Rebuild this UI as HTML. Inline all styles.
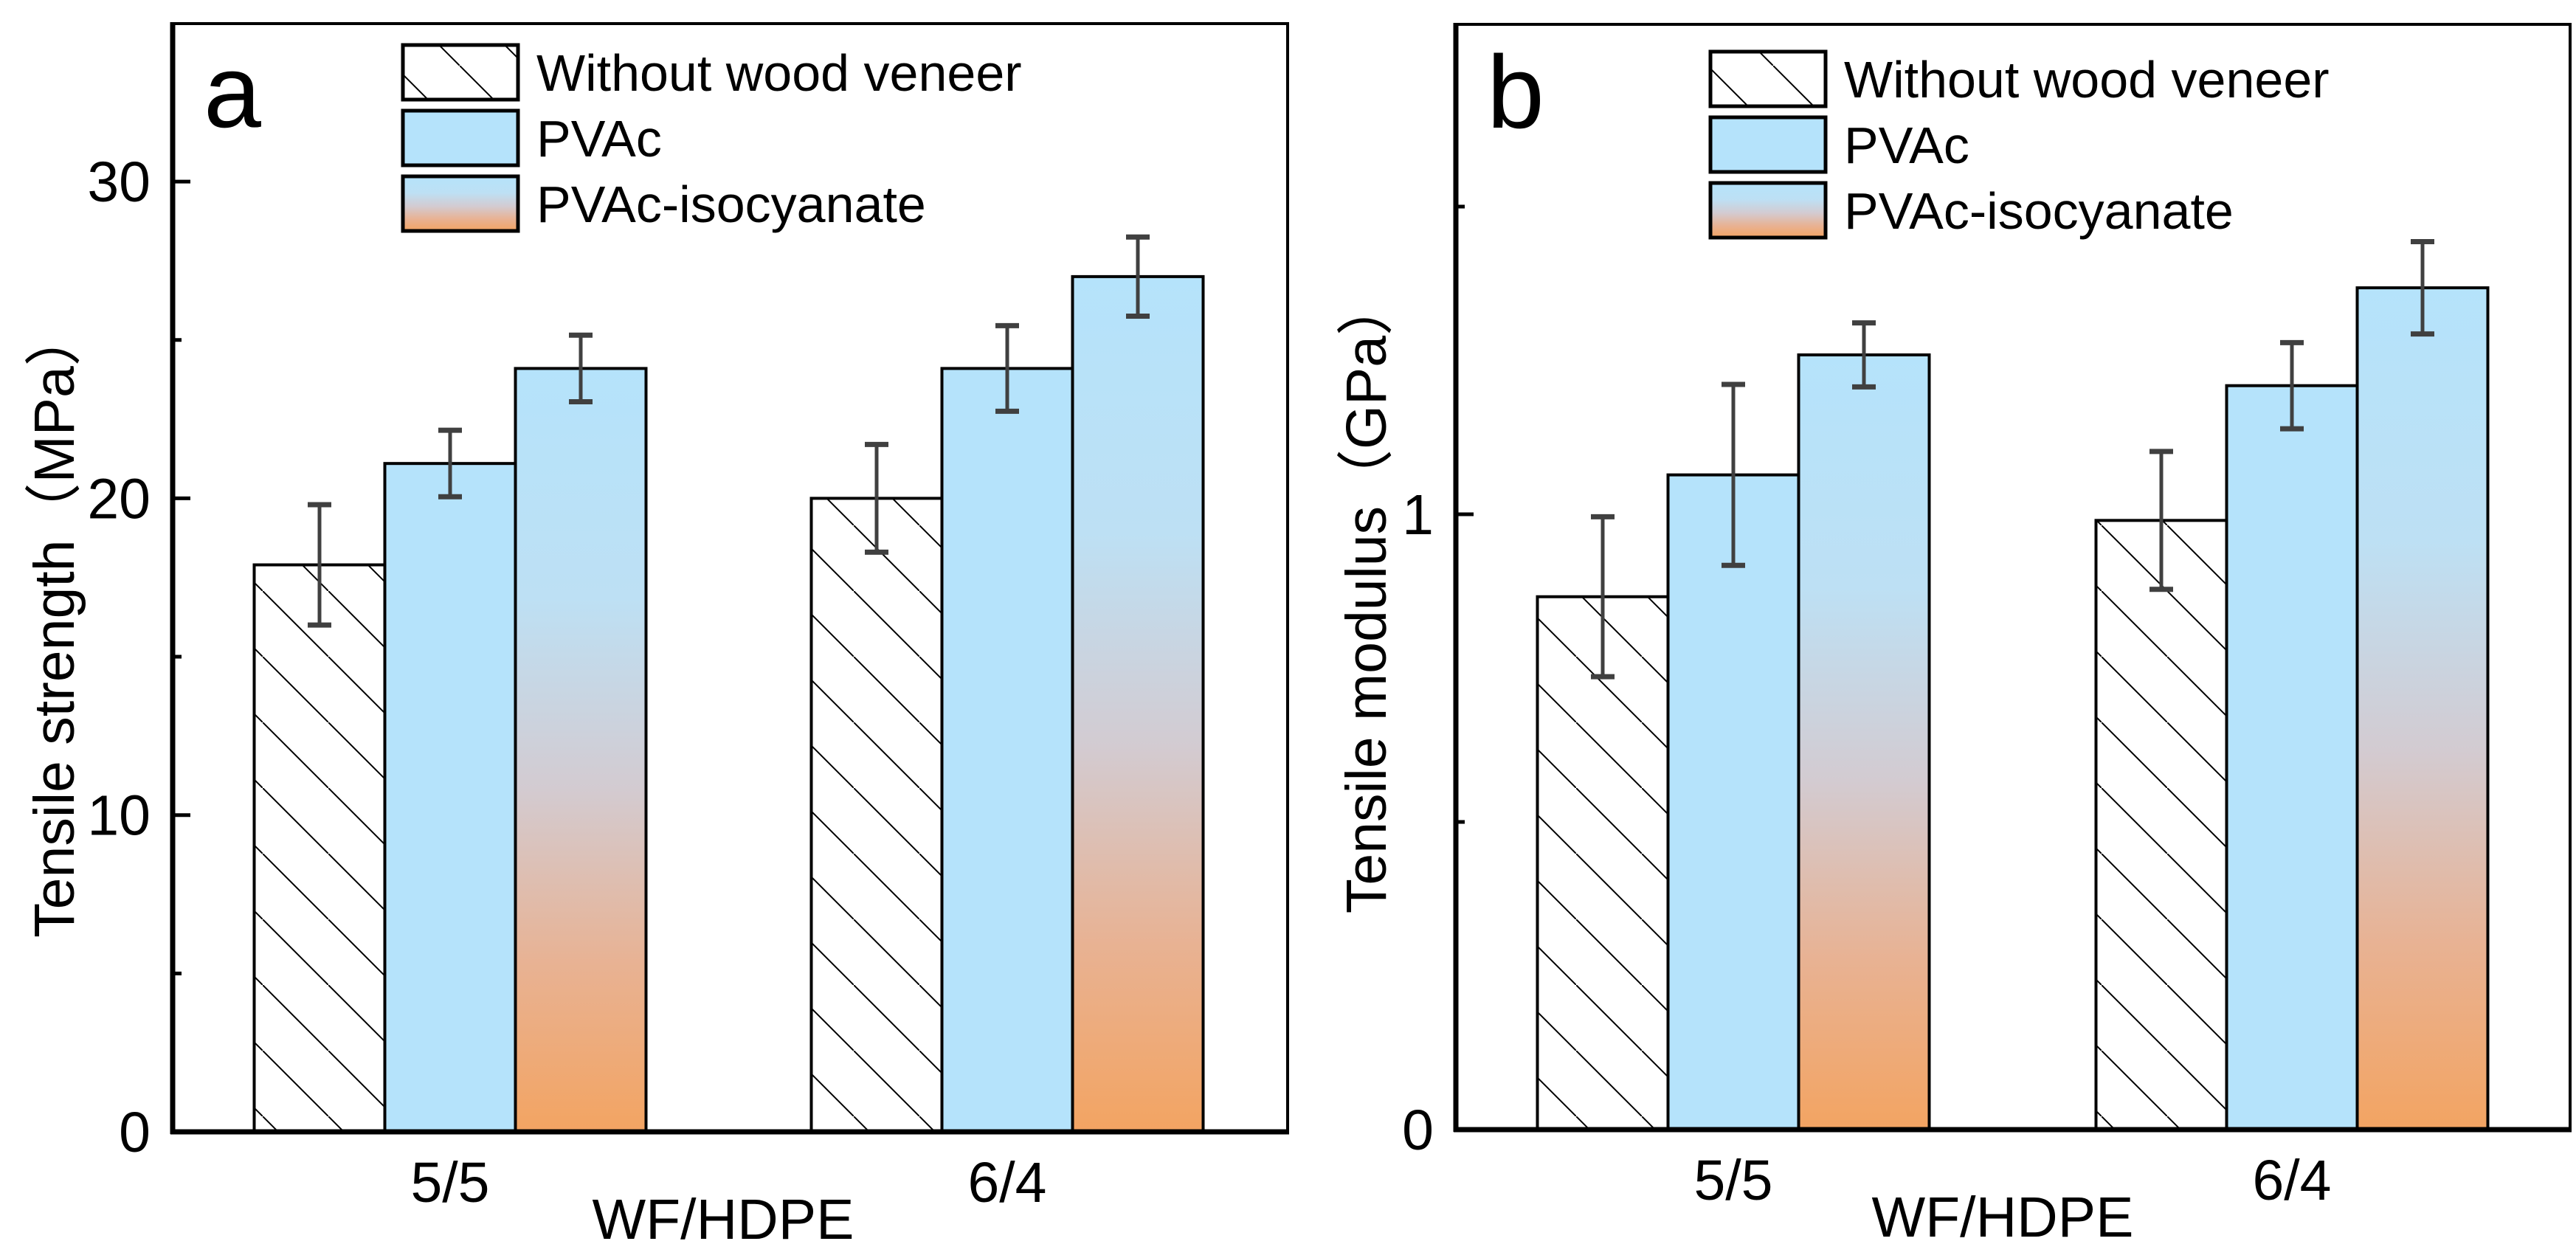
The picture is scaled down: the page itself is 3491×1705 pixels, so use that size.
<!DOCTYPE html>
<html><head><meta charset="utf-8">
<style>
html,body{margin:0;padding:0;background:#fff;}
svg{display:block;font-family:"Liberation Sans","Noto Sans CJK SC",sans-serif;}
</style></head>
<body>
<svg id="fig" width="3491" height="1705" viewBox="0 0 3491 1705" xmlns="http://www.w3.org/2000/svg">
<defs>
<pattern id="hatch" patternUnits="userSpaceOnUse" width="89" height="89">
<line x1="-10" y1="-10" x2="99" y2="99" stroke="#000" stroke-width="2"/>
</pattern>
<linearGradient id="grad" x1="0" y1="0" x2="0" y2="1">
<stop offset="0" stop-color="#b5e3fb"/>
<stop offset="0.3" stop-color="#bde0f4"/>
<stop offset="0.55" stop-color="#d3cbd1"/>
<stop offset="0.78" stop-color="#e8b293"/>
<stop offset="1" stop-color="#f3a462"/>
</linearGradient>
</defs>
</svg>
<script>
// Shared data
const categories = ["5/5", "6/4"];
const seriesNames = ["Without wood veneer", "PVAc", "PVAc-isocyanate"];
// Panel a: tensile strength (MPa)
const strengthVals = [[17.9, 20.0], [21.1, 24.1], [24.1, 27.0]];
const strengthErr = [[1.9, 1.7], [1.05, 1.35], [1.05, 1.25]];
const strengthTicks = [0, 10, 20, 30];
const strengthMinor = [5, 15, 25];
// Panel b: tensile modulus (GPa)
const modulusVals = [[0.866, 0.99], [1.064, 1.209], [1.259, 1.368]];
const modulusErr = [[0.13, 0.112], [0.147, 0.07], [0.052, 0.075]];
const modulusTicks = [0, 1];
const modulusMinor = [0.5, 1.5];

const NS = "http://www.w3.org/2000/svg";
const svg = document.getElementById("fig");
function mk(tag, attrs, parent) {
  const e = document.createElementNS(NS, tag);
  for (const k in attrs) e.setAttribute(k, attrs[k]);
  (parent || svg).appendChild(e);
  return e;
}
const fills = ["url(#hatch)", "#b5e3fb", "url(#grad)"];
const barW = 177;

function panel(cfg) {
  const g = mk("g", {});
  
  
  const yS = v => cfg.y0 - (v - 0) * cfg.ppu;
  const xC = i => cfg.groupCenters[i];
  // bars
  for (let s = 0; s < 3; s++) {
    for (let c = 0; c < categories.length; c++) {
      const v = cfg.vals[s][c];
      const x = xC(c) + (s - 1) * barW - barW / 2;
      const y = yS(v);
      if (s === 0) {
        const bg = mk("rect", {x: x, y: y, width: barW, height: cfg.y0 - y, fill: "#fff"}, g);
        
        
      }
      const r = mk("rect", {x: x, y: y, width: barW, height: cfg.y0 - y, fill: fills[s], stroke: "#000", "stroke-width": 4}, g);
      
      
    }
  }
  // error bars
  for (let s = 0; s < 3; s++) {
    for (let c = 0; c < categories.length; c++) {
      const v = cfg.vals[s][c], e = cfg.errs[s][c];
      const cx = xC(c) + (s - 1) * barW;
      const eg = mk("g", {stroke: "#404040", "stroke-width": 5}, g);
      
      
      mk("line", {x1: cx, x2: cx, y1: yS(v + e), y2: yS(v - e)}, eg);
      mk("line", {x1: cx - 16, x2: cx + 16, y1: yS(v + e), y2: yS(v + e), "stroke-width": 7}, eg);
      mk("line", {x1: cx - 16, x2: cx + 16, y1: yS(v - e), y2: yS(v - e), "stroke-width": 7}, eg);
    }
  }
  // axes frame
  const fr = mk("rect", {x: cfg.left, y: cfg.top, width: cfg.right - cfg.left, height: cfg.y0 - cfg.top, fill: "none", stroke: "#000", "stroke-width": 4}, g);
  
  
  const la = mk("line", {x1: cfg.left, x2: cfg.left, y1: cfg.top - 2, y2: cfg.y0 + 3, stroke: "#000", "stroke-width": 7}, g);
  
  
  const ba = mk("line", {x1: cfg.left - 3, x2: cfg.right + 2, y1: cfg.y0, y2: cfg.y0, stroke: "#000", "stroke-width": 7}, g);
  
  
  // ticks
  cfg.ticks.forEach(t => {
    const y = yS(t);
    const tk = mk("line", {x1: cfg.left, x2: cfg.left + 24, y1: y, y2: y, stroke: "#000", "stroke-width": 5}, g);
    
    
    const tl = mk("text", {x: cfg.left - 30, y: y + 27, "text-anchor": "end", "font-size": 77}, g);
    tl.textContent = t;
    
    
  });
  cfg.minor.forEach(t => {
    const y = yS(t);
    const tk = mk("line", {x1: cfg.left, x2: cfg.left + 12, y1: y, y2: y, stroke: "#000", "stroke-width": 5}, g);
    
    
  });
  categories.forEach((c, i) => {
    const tl = mk("text", {x: xC(i), y: cfg.y0 + 95, "text-anchor": "middle", "font-size": 77}, g);
    tl.textContent = c;
    
    
  });
  const xt = mk("text", {x: cfg.xTitleX, y: cfg.y0 + 145, "text-anchor": "middle", "font-size": 77}, g);
  xt.textContent = "WF/HDPE";
  
  
  const yt = mk("text", {x: 0, y: 0, "text-anchor": "middle", "font-size": 77, transform: "translate(" + cfg.yTitleX + "," + cfg.yTitleY + ") rotate(-90)"}, g);
  yt.textContent = cfg.yTitle;
  
  
  const pl = mk("text", {x: cfg.left + 42, y: cfg.top + 140, "font-size": 140}, g);
  pl.textContent = cfg.letter;
  
  
  // legend
  const lg = mk("g", {}, g);
  
  
  const lx = cfg.legX, ly = cfg.legY;
  seriesNames.forEach((n, i) => {
    const y = ly + i * 89;
    if (i === 0) mk("rect", {x: lx, y: y, width: 156, height: 74, fill: "#fff"}, lg);
    const r = mk("rect", {x: lx, y: y, width: 156, height: 74, fill: fills[i], stroke: "#000", "stroke-width": 5}, lg);
    
    
    const t = mk("text", {x: lx + 181, y: y + 62, "font-size": 70}, lg);
    t.textContent = n;
    
    
  });
}

panel({name: "panel-a-tensile-strength", letter: "a", left: 234, right: 1745, top: 32, y0: 1534,
  ppu: 42.93, groupCenters: [610, 1365], vals: strengthVals, errs: strengthErr,
  ticks: strengthTicks, minor: strengthMinor, xTitleX: 980, yTitleX: 100, yTitleY: 845,
  yTitle: "Tensile strength（MPa）", legX: 546, legY: 61});
panel({name: "panel-b-tensile-modulus", letter: "b", left: 1973, right: 3483, top: 33, y0: 1531,
  ppu: 834, groupCenters: [2349, 3106], vals: modulusVals, errs: modulusErr,
  ticks: modulusTicks, minor: modulusMinor, xTitleX: 2714, yTitleX: 1878, yTitleY: 808,
  yTitle: "Tensile modulus（GPa）", legX: 2318, legY: 70});
</script>
</body></html>
